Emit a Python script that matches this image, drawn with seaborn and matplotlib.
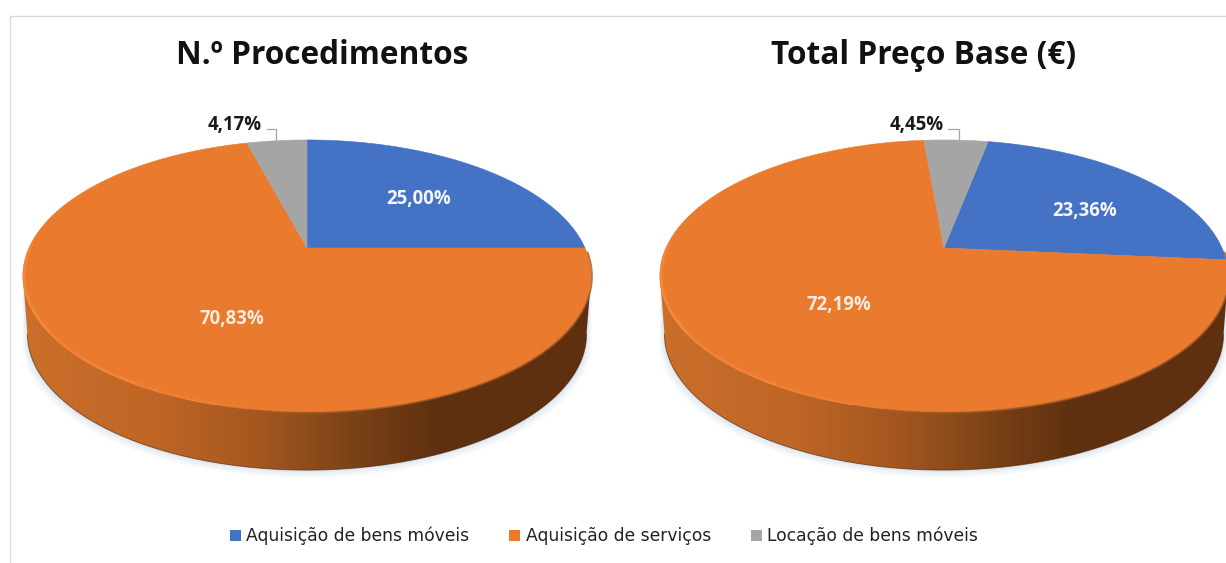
import numpy as np
import matplotlib
matplotlib.use("Agg")
import matplotlib.pyplot as plt
from matplotlib.patches import Polygon, Patch
from matplotlib.colors import LinearSegmentedColormap
import seaborn as sns

categories = ["Aquisição de bens móveis", "Aquisição de serviços", "Locação de bens móveis"]
titles = ["N.º Procedimentos", "Total Preço Base (€)"]
procedimentos = [25.00, 70.83, 4.17]
preco_base = [23.36, 72.19, 4.45]
colors = ["#4472C4", "#EA7A2E", "#A5A5A5"]

sns.set_theme(style="white")
plt.rcParams["font.family"] = ["Open Sans", "DejaVu Sans"]

fig = plt.figure(figsize=(12.26, 5.63), dpi=100)
ax = fig.add_axes([0, 0, 1, 1])
ax.set_xlim(0, 1226)
ax.set_ylim(563, 0)
ax.axis("off")

K = 0.206
A = 130.3
B = 278.0
DEPTH = 58
TAPER = 0.984
WIDE = np.degrees(np.arccos(-K))
side_cmap = LinearSegmentedColormap.from_list(
    "side", [(0, "#CB6F2B"), (.24, "#BF6626"), (.41, "#A65720"), (.5, "#8F4D1D"),
             (.6, "#773F15"), (.73, "#5F300F"), (1, "#5F3010")])


def project(t, cx, cy, r=1.0):
    u, v = r * np.sin(t), r * np.cos(t)
    w = 1 + K * v
    return cx + B * u / w, cy - A * v / w


def draw_pie(values, cx, cy, start_deg):
    front = np.radians(np.linspace(WIDE, 360 - WIDE, 420))
    x, y = project(front, cx, cy)
    bx, by = cx + (x - cx) * TAPER, y + DEPTH
    outline = np.r_[np.c_[x, y], np.c_[bx, by][::-1]]
    # soft shadow under the body
    for grow, alpha in [(8, .05), (6, .07), (4, .09), (2, .12)]:
        sx = cx + (x - cx) * (TAPER + grow / 400)
        ax.add_patch(Polygon(np.r_[np.c_[x, y], np.c_[sx, by + grow][::-1]], closed=True,
                             fc="#9DB6D2", ec="none", alpha=alpha, zorder=1))
    # side wall with its horizontal shading
    body = Polygon(outline, closed=True, fc="none", ec="none", transform=ax.transData)
    ax.add_patch(body)
    img = ax.imshow(np.linspace(0, 1, 512)[None, :], cmap=side_cmap, vmin=0, vmax=1,
                    extent=(cx - 287, cx + 287, 480, 230), aspect="auto", zorder=2)
    img.set_clip_path(body)
    ax.plot(bx, by, color="#4A2409", lw=.7, alpha=.6, zorder=2)
    # top face, from the values
    edges = np.radians(start_deg + np.cumsum([0] + list(values)) * 3.6)
    for a, b, col in zip(edges[:-1], edges[1:], colors):
        t = np.linspace(a, b, 240)
        px, py = project(t, cx, cy)
        ax.add_patch(Polygon(np.r_[[[cx, cy]], np.c_[px, py]], closed=True,
                             fc=col, ec=col, lw=.4, zorder=3))
    # soft edge on the dark side, bright bevel on the lit side
    dark = np.radians(np.linspace(WIDE - 10, 195, 200))
    ax.plot(*project(dark, cx, cy, 1.003), color="#A85A22", lw=1.3, alpha=.8, zorder=4)
    for lo, hi, alpha in [(190, 215, .3), (210, 240, .55), (235, 272, .8)]:
        rim = np.radians(np.linspace(lo, hi, 100))
        ax.plot(*project(rim, cx, cy, .996), color="#F58A3C", lw=2.0, alpha=alpha, zorder=4,
                solid_capstyle="butt")


draw_pie(procedimentos, 307, 248, 0)
draw_pie(preco_base, 944, 248, 11)
ax.set_xlim(0, 1226)
ax.set_ylim(563, 0)
ax.set_aspect("auto")

# chart frame
ax.plot([10, 10, 1226], [563, 16, 16], color="#D9D9D9", lw=1, zorder=0)

title_style = dict(ha="center", va="center", fontsize=22.8, fontweight="bold",
                   color="#111111", zorder=6)
ax.text(322, 55, titles[0], **title_style)
ax.text(924, 55, titles[1], **title_style)

label_style = dict(ha="center", va="center", fontsize=13.4, fontweight="bold", zorder=6)


def pct(v):
    return f"{v:.2f}%".replace(".", ",")


ax.text(419, 199, pct(procedimentos[0]), color="#F4F6FA", **label_style)
ax.text(232, 319, pct(procedimentos[1]), color="#FBEBDD", **label_style)
ax.text(235, 125, pct(procedimentos[2]), color="#1A1A1A", **label_style)
ax.text(1085, 211, pct(preco_base[0]), color="#F4F6FA", **label_style)
ax.text(839, 305, pct(preco_base[1]), color="#FBEBDD", **label_style)
ax.text(917, 125, pct(preco_base[2]), color="#1A1A1A", **label_style)

ax.plot([267, 276, 276], [129, 129, 141], color="#A6A6A6", lw=.9, zorder=5)
ax.plot([948, 959, 959], [129, 129, 141], color="#A6A6A6", lw=.9, zorder=5)

handles = [Patch(fc=c, ec="none") for c in colors]
ax.legend(handles, categories, loc="center", bbox_to_anchor=(604 / 1226, 1 - 536 / 563),
          ncol=3, frameon=False, handlelength=.65, handleheight=.65, handletextpad=.3,
          columnspacing=2.35, prop={"family": "DejaVu Sans", "size": 12.3}, labelcolor="#222222")

fig.savefig("out.png", dpi=100)
